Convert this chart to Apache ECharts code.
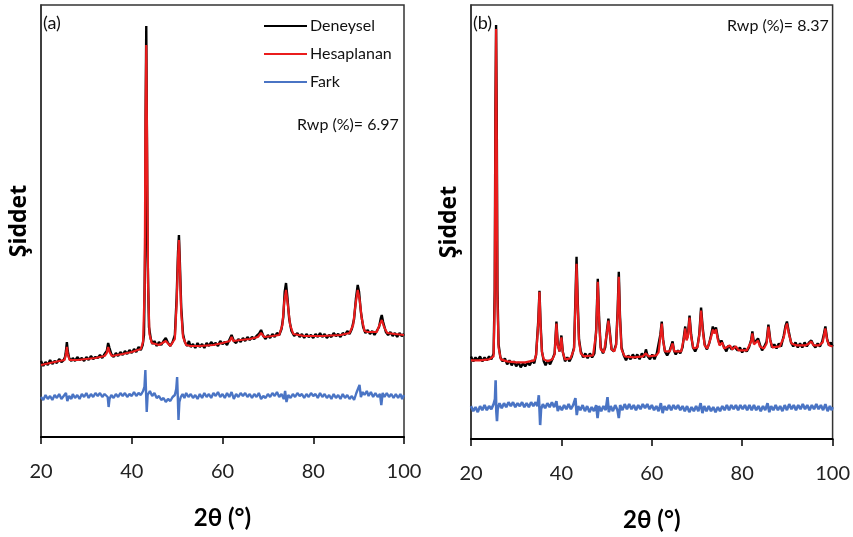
<!DOCTYPE html>
<html>
<head>
<meta charset="utf-8">
<script src="https://cdn.jsdelivr.net/npm/echarts@6/dist/echarts.min.js"></script>
<style>html,body{margin:0;padding:0;background:#fff}#c{width:853px;height:537px}</style>
</head>
<body>
<div id="c"></div>
<script>
// x-axis ticks (2θ, degrees)
var xTicks = [20, 40, 60, 80, 100];
var seriesNames = ['Deneysel', 'Hesaplanan', 'Fark'];
var panelLabels = ['(a)', '(b)'];
var rwpLabels = ['Rwp (%)= 6.97', 'Rwp (%)= 8.37'];

// ---------- Panel (a) ----------
var obsA = [[20,76],[20.5,71],[21,75],[21.5,72],[22,77],[22.5,73],[23,76],[23.5,74],[24,78],[24.5,75],[25,77],[25.3,80],[25.5,86],[25.7,95],[25.9,86],[26.2,79],[26.7,76],[27,79],[27.5,76],[28,80],[28.5,77],[29,79],[29.5,76],[30,80],[30.5,77],[31,81],[31.5,78],[32,80],[32.5,79],[33,82],[33.5,79],[34,83],[34.5,86],[34.8,94],[35.1,89],[35.5,83],[36,80],[36.5,84],[37,81],[37.5,85],[38,82],[38.5,86],[39,83],[39.5,87],[40,84],[40.5,88],[41,85],[41.5,90],[42,87],[42.4,92],[42.7,102],[42.95,190],[43.05,320],[43.2,411],[43.35,300],[43.5,180],[43.8,110],[44.2,98],[44.6,93],[45,96],[45.5,91],[46,95],[46.5,92],[47,96],[47.5,99],[48,94],[48.5,91],[49,95],[49.5,102],[49.9,140],[50.2,185],[50.4,202],[50.6,175],[50.9,130],[51.3,103],[51.7,95],[52.2,91],[52.6,96],[53,90],[53.5,93],[54,89],[54.5,94],[55,90],[55.5,93],[56,89],[56.5,94],[57,91],[57.5,95],[58,92],[58.5,94],[59,91],[59.5,96],[60,93],[60.5,95],[61,92],[61.5,97],[62,102],[62.5,96],[63,94],[63.5,98],[64,95],[64.5,99],[65,96],[65.5,100],[66,97],[66.5,100],[67,98],[67.5,101],[68,103],[68.5,107],[69,101],[69.5,98],[70,102],[70.5,99],[71,103],[71.5,100],[72,104],[72.5,102],[73,108],[73.4,120],[73.7,145],[74.0,154],[74.3,140],[74.7,118],[75.2,106],[75.8,101],[76.5,104],[77,100],[77.5,103],[78,99],[78.5,103],[79,100],[79.5,102],[80,99],[80.5,103],[81,100],[81.5,104],[82,100],[82.5,103],[83,99],[83.5,102],[84,100],[84.5,104],[85,101],[85.5,103],[86,100],[86.5,104],[87,102],[87.5,106],[88,103],[88.5,108],[89,118],[89.4,138],[89.8,152],[90.1,145],[90.5,125],[91,110],[91.5,104],[92,107],[92.5,103],[93,106],[93.5,102],[94,106],[94.5,110],[94.9,119],[95.1,122],[95.4,115],[96,105],[96.5,102],[97,105],[97.5,101],[98,104],[98.5,100],[99,104],[99.5,101],[100,103]];

var calcA = [[20,72],[22,74],[24,76],[25.2,77],[25.5,83],[25.7,90],[25.9,83],[26.3,77],[28,77],[30,78],[32,79],[34,81],[34.5,84],[34.8,90],[35.1,85],[35.6,81],[38,83],[40,85],[42,88],[42.5,95],[42.85,150],[43.0,300],[43.2,392],[43.4,280],[43.6,150],[43.9,103],[44.4,94],[46,92],[47.5,96],[48.5,91],[49.5,98],[49.9,135],[50.2,180],[50.4,197],[50.6,170],[50.9,125],[51.3,100],[52,92],[53,91],[55,91],[58,92],[60,94],[61.6,96],[62,100],[62.4,96],[64,97],[66,98],[67.8,100],[68.5,104],[69.2,100],[71,101],[72.5,102],[73.2,112],[73.6,135],[74.0,147],[74.4,132],[74.9,112],[75.6,103],[78,101],[82,101],[86,102],[88,104],[88.8,112],[89.3,132],[89.8,147],[90.2,138],[90.7,118],[91.3,106],[92,105],[94,105],[94.6,112],[95.1,117],[95.6,110],[96.3,104],[98,103],[100,102]];

var diffA = [[20,40],[20.5,37],[21,42],[21.5,38],[22,41],[22.5,37],[23,42],[23.5,39],[24,43],[24.5,38],[25,41],[25.5,44],[25.8,36],[26.2,41],[26.7,38],[27,43],[27.5,39],[28,42],[28.5,38],[29,43],[29.5,40],[30,44],[30.5,39],[31,43],[31.5,40],[32,44],[32.5,41],[33,44],[33.5,40],[34,43],[34.4,45],[34.7,40],[34.9,30],[35.1,38],[35.5,42],[36,39],[36.5,43],[37,40],[37.5,44],[38,41],[38.5,44],[39,40],[39.5,43],[40,41],[40.5,45],[41,41],[41.5,44],[42,42],[42.5,46],[42.8,50],[43.0,67],[43.15,45],[43.3,25],[43.5,42],[44,46],[44.5,41],[45,44],[45.5,39],[46,41],[46.5,37],[47,39],[47.5,35],[48,38],[48.5,36],[49,40],[49.5,42],[49.8,48],[50,60],[50.15,40],[50.3,17],[50.5,35],[50.8,40],[51.2,43],[51.6,39],[52,44],[52.5,40],[53,43],[53.5,39],[54,42],[54.5,38],[55,43],[55.5,39],[56,44],[56.5,40],[57,43],[57.5,39],[58,44],[58.5,41],[59,45],[59.5,40],[60,43],[60.5,39],[61,44],[61.5,40],[62,45],[62.5,38],[63,43],[63.5,40],[64,44],[64.5,41],[65,44],[65.5,40],[66,43],[66.5,39],[67,43],[67.5,40],[68,44],[68.5,38],[69,41],[69.5,39],[70,43],[70.5,40],[71,44],[71.5,41],[72,45],[72.5,40],[73,43],[73.5,38],[73.8,46],[74.1,35],[74.5,42],[75,39],[75.5,43],[76,40],[76.5,44],[77,41],[77.5,43],[78,39],[78.5,43],[79,40],[79.5,44],[80,41],[80.5,43],[81,39],[81.5,44],[82,40],[82.5,43],[83,39],[83.5,42],[84,38],[84.5,43],[85,39],[85.5,42],[86,38],[86.5,43],[87,39],[87.5,42],[88,38],[88.5,41],[89,37],[89.5,44],[89.9,46],[90.2,52],[90.5,40],[90.9,45],[91.3,42],[91.8,46],[92.2,41],[92.7,45],[93.2,40],[93.7,44],[94.2,40],[94.7,43],[95.0,32],[95.3,44],[95.7,40],[96.2,44],[96.7,40],[97.2,43],[97.7,39],[98.2,43],[98.7,39],[99.2,43],[99.6,38],[100,42]];

// ---------- Panel (b) ----------
var obsB = [[20,83],[20.5,78],[21,82],[21.5,79],[22,83],[22.5,78],[23,82],[23.5,79],[24,83],[24.5,80],[25,86],[25.25,150],[25.4,330],[25.55,416],[25.7,320],[25.85,150],[26.1,95],[26.5,82],[27,78],[27.5,81],[28,75],[28.5,79],[29,74],[29.5,78],[30,73],[30.5,77],[31,72],[31.5,76],[32,73],[32.5,77],[33,74],[33.5,79],[34,76],[34.4,85],[34.7,106],[34.9,120],[35.15,149],[35.4,115],[35.7,88],[36.1,78],[36.5,74],[37,79],[37.5,75],[38,80],[38.5,86],[38.9,118],[39.2,95],[39.6,88],[40,104],[40.3,88],[40.8,78],[41.3,82],[41.8,78],[42.3,83],[42.8,92],[43.1,140],[43.35,183],[43.6,140],[43.9,100],[44.3,88],[44.8,82],[45.3,86],[45.8,81],[46.3,86],[46.8,82],[47.3,86],[47.7,110],[48.05,161],[48.35,120],[48.7,92],[49.2,86],[49.7,92],[50.1,110],[50.4,121],[50.7,108],[51.1,90],[51.6,88],[52.1,95],[52.45,130],[52.7,168],[52.95,125],[53.3,92],[53.8,84],[54.3,79],[54.8,84],[55.3,80],[55.8,85],[56.3,81],[56.8,85],[57.3,80],[57.8,86],[58.3,82],[58.7,90],[59.1,83],[59.6,80],[60.1,85],[60.6,80],[61.1,86],[61.5,88],[61.9,105],[62.2,118],[62.5,100],[62.9,88],[63.4,84],[63.9,88],[64.3,90],[64.6,98],[64.9,89],[65.3,85],[65.8,89],[66.3,86],[66.8,92],[67.1,103],[67.4,113],[67.7,100],[68.0,105],[68.35,124],[68.7,105],[69.1,92],[69.6,88],[70.1,93],[70.5,105],[70.9,132],[71.3,110],[71.7,95],[72.2,90],[72.7,96],[73.1,104],[73.5,113],[73.8,108],[74.2,112],[74.6,102],[75.0,95],[75.4,99],[75.7,99],[76.0,92],[76.5,88],[77,94],[77.3,96],[77.7,90],[78.2,93],[78.6,95],[79.0,89],[79.5,92],[80,87],[80.5,91],[81,88],[81.5,92],[82,100],[82.25,108],[82.6,96],[83.0,94],[83.5,101],[83.9,95],[84.4,89],[84.9,93],[85.4,98],[85.8,115],[86.2,100],[86.6,92],[87.1,95],[87.6,91],[88.1,96],[88.6,93],[89.2,104],[89.6,114],[89.9,118],[90.3,108],[90.8,97],[91.3,93],[91.8,97],[92.3,92],[92.8,96],[93.3,92],[93.8,97],[94.3,93],[94.8,97],[95.3,99],[95.7,95],[96.2,92],[96.7,96],[97.2,93],[97.7,98],[98.1,106],[98.4,113],[98.8,100],[99.2,94],[99.6,97],[100,93]];

var calcB = [[20,79],[22,79],[24,80],[25,83],[25.25,140],[25.4,310],[25.55,412],[25.7,300],[25.85,140],[26.1,92],[26.6,80],[28,78],[30,77],[32,77],[34,79],[34.4,84],[34.7,104],[34.9,118],[35.15,148],[35.4,113],[35.7,87],[36.1,80],[37,78],[38,80],[38.5,85],[38.9,116],[39.2,94],[39.6,88],[40,102],[40.3,87],[40.8,80],[42,81],[42.8,90],[43.1,135],[43.35,176],[43.6,135],[43.9,98],[44.3,86],[45,83],[47,84],[47.7,107],[48.05,158],[48.35,118],[48.7,90],[49.4,87],[50.1,108],[50.4,119],[50.7,106],[51.1,90],[51.7,88],[52.1,94],[52.45,127],[52.7,163],[52.95,122],[53.3,90],[54,83],[56,82],[58,83],[58.7,86],[59.3,83],[61,84],[61.5,87],[61.9,103],[62.2,116],[62.5,99],[62.9,88],[64,88],[64.6,96],[65,88],[66.5,88],[67.1,101],[67.4,111],[67.7,99],[68.0,103],[68.35,122],[68.7,103],[69.2,91],[70.1,92],[70.5,104],[70.9,129],[71.3,108],[71.7,94],[72.3,91],[73.1,102],[73.5,110],[73.8,106],[74.2,110],[74.6,100],[75.0,94],[75.6,97],[76.0,91],[77.3,94],[77.8,90],[78.6,93],[79.2,89],[81,89],[82,98],[82.25,106],[82.6,95],[83.0,93],[83.5,99],[83.9,93],[84.8,91],[85.4,96],[85.8,113],[86.2,99],[86.7,92],[88.3,93],[89.2,102],[89.6,112],[89.9,116],[90.3,106],[90.9,96],[92,94],[94,94],[94.8,96],[95.3,98],[95.8,94],[97,94],[97.8,97],[98.1,104],[98.4,111],[98.8,99],[99.3,94],[100,93]];

var diffB = [[20,33],[20.5,28],[21,32],[21.5,27],[22,33],[22.5,29],[23,34],[23.5,29],[24,33],[24.5,30],[25,35],[25.3,40],[25.45,59],[25.6,28],[25.75,18],[25.9,30],[26.3,36],[26.8,31],[27.3,36],[27.8,32],[28.3,37],[28.8,33],[29.3,37],[29.8,32],[30.3,36],[30.8,33],[31.3,37],[31.8,32],[32.3,36],[32.8,32],[33.3,37],[33.8,33],[34.3,37],[34.7,33],[35.0,44],[35.15,30],[35.3,14],[35.5,30],[35.9,35],[36.4,31],[36.9,36],[37.4,32],[37.9,37],[38.4,32],[38.9,38],[39.2,28],[39.6,33],[40.1,29],[40.6,34],[41.1,30],[41.6,35],[42.1,30],[42.6,34],[43.1,41],[43.4,24],[43.7,33],[44.2,29],[44.7,34],[45.2,28],[45.7,33],[46.2,27],[46.7,32],[47.2,28],[47.7,34],[48.0,21],[48.3,33],[48.8,28],[49.3,33],[49.8,29],[50.2,42],[50.5,27],[50.9,33],[51.4,28],[51.9,34],[52.4,29],[52.7,21],[53.0,34],[53.5,29],[54,35],[54.5,30],[55,35],[55.5,30],[56,34],[56.5,29],[57,34],[57.5,30],[58,35],[58.5,31],[59,35],[59.5,30],[60,34],[60.5,29],[61,33],[61.5,28],[62,36],[62.4,26],[62.8,33],[63.3,29],[63.8,34],[64.3,29],[64.8,34],[65.3,30],[65.8,34],[66.3,29],[66.8,33],[67.3,28],[67.8,33],[68.3,27],[68.8,32],[69.3,28],[69.8,33],[70.3,28],[70.8,36],[71.2,26],[71.6,33],[72.1,28],[72.6,33],[73.1,28],[73.6,32],[74.1,27],[74.6,32],[75.1,28],[75.6,33],[76.1,29],[76.6,34],[77.1,29],[77.6,34],[78.1,30],[78.6,34],[79.1,29],[79.6,34],[80.1,30],[80.6,34],[81.1,29],[81.6,34],[82.1,29],[82.6,34],[83.1,29],[83.6,33],[84.1,28],[84.6,33],[85.1,29],[85.6,36],[86.0,27],[86.4,33],[86.9,29],[87.4,34],[87.9,29],[88.4,33],[88.9,28],[89.4,34],[89.9,29],[90.4,35],[90.9,30],[91.4,34],[91.9,29],[92.4,34],[92.9,30],[93.4,35],[93.9,30],[94.4,34],[94.9,29],[95.4,34],[95.9,30],[96.4,35],[96.9,30],[97.4,34],[97.9,29],[98.4,35],[98.9,28],[99.4,33],[99.8,29],[100,32]];

var colors = {obs: '#000000', calc: '#ea1c1c', diff: '#4a74c4'};
var FONT = 'Lato, "Open Sans", sans-serif';

function xAxisCfg(idx) {
  return {
    gridIndex: idx, type: 'value', min: xTicks[0], max: xTicks[xTicks.length - 1], interval: 20,
    name: '2θ (°)', nameLocation: 'middle', nameGap: 69,
    nameTextStyle: {fontFamily: FONT, fontWeight: 'bold', fontSize: 24, color: '#000'},
    axisLine: {show: true, onZero: false, lineStyle: {color: '#000', width: 2}},
    axisTick: {show: true, inside: false, length: 7, lineStyle: {color: '#000', width: 1.5}},
    axisLabel: {fontFamily: FONT, fontSize: 20, color: '#222', margin: 25},
    splitLine: {show: false}
  };
}
function yAxisCfg(idx, maxV) {
  return {
    gridIndex: idx, type: 'value', min: 0, max: maxV,
    name: 'Şiddet', nameLocation: 'middle', nameGap: 10, nameRotate: 90,
    nameTextStyle: {fontFamily: '"Open Sans", sans-serif', fontWeight: 'bold', fontSize: 23, color: '#000'},
    axisLine: {show: true, lineStyle: {color: '#333', width: 1.5}},
    axisTick: {show: false}, axisLabel: {show: false}, splitLine: {show: false}
  };
}
function line(name, data, idx, color, w) {
  return {
    name: name, type: 'line', xAxisIndex: idx, yAxisIndex: idx, data: data,
    symbol: 'none', color: color, lineStyle: {color: color, width: w}, silent: true
  };
}

var chart = echarts.init(document.getElementById('c'), null, {renderer: 'canvas'});
chart.setOption({
  animation: false,
  backgroundColor: '#fff',
  grid: [
    {left: 41, top: 5, width: 363, height: 432, show: true, borderColor: '#333', borderWidth: 1.5, backgroundColor: 'transparent'},
    {left: 471, top: 5, width: 363, height: 436, show: true, borderColor: '#333', borderWidth: 1.5, backgroundColor: 'transparent'}
  ],
  xAxis: [xAxisCfg(0), xAxisCfg(1)],
  yAxis: [yAxisCfg(0, 432), yAxisCfg(1, 436)],
  legend: {
    orient: 'vertical', left: 259, top: 13, itemWidth: 43, itemHeight: 2, itemGap: 12,
    icon: 'rect', selectedMode: false,
    data: seriesNames,
    textStyle: {fontFamily: FONT, fontSize: 16, color: '#111', padding: [0, 0, 0, -2]}
  },
  graphic: [
    {type: 'text', left: 43, top: 14, style: {text: panelLabels[0], font: '18px ' + FONT, fill: '#111'}},
    {type: 'text', left: 473, top: 14, style: {text: panelLabels[1], font: '18px ' + FONT, fill: '#111'}},
    {type: 'text', left: 297, top: 117, style: {text: rwpLabels[0], font: '16px ' + FONT, fill: '#111'}},
    {type: 'text', left: 727, top: 18, style: {text: rwpLabels[1], font: '16px ' + FONT, fill: '#111'}}
  ],
  series: [
    line(seriesNames[0], obsA, 0, colors.obs, 2.4),
    line(seriesNames[1], calcA, 0, colors.calc, 2.2),
    line(seriesNames[2], diffA, 0, colors.diff, 2.4),
    line(seriesNames[0], obsB, 1, colors.obs, 2.4),
    line(seriesNames[1], calcB, 1, colors.calc, 2.2),
    line(seriesNames[2], diffB, 1, colors.diff, 2.6)
  ]
});
</script>
</body>
</html>
